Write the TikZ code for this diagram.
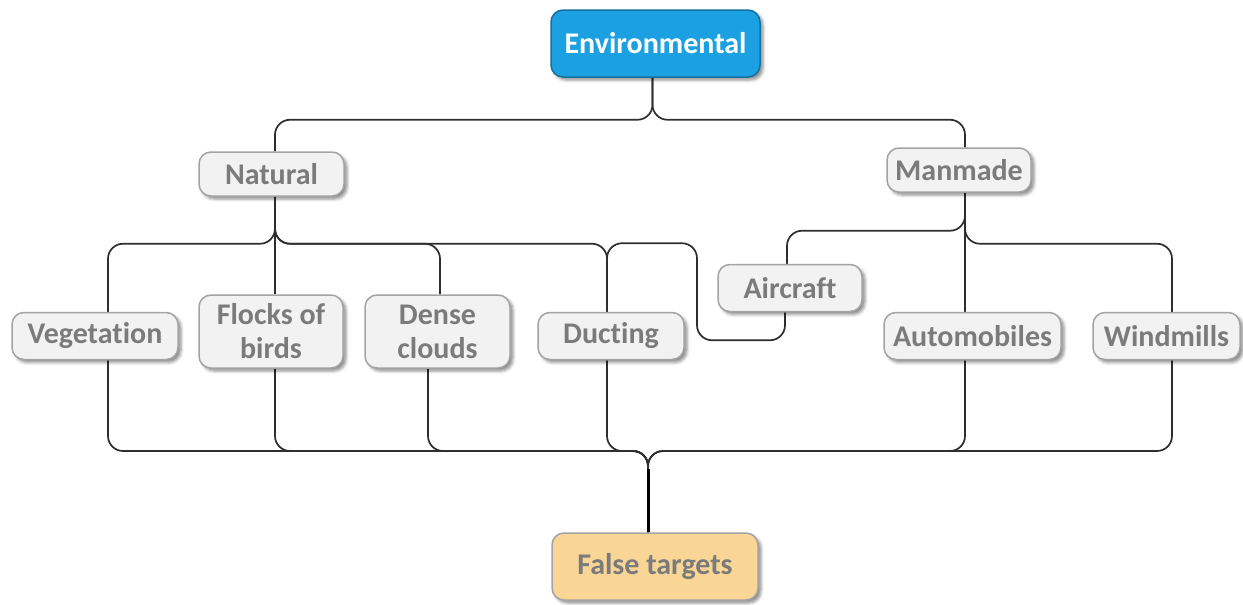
\documentclass[tikz,border=0pt]{standalone}
\usepackage{fontspec}
\setmainfont{Carlito}[RawFeature={-liga;-clig;-dlig;-calt}]
\usetikzlibrary{shadows.blur,backgrounds}
\definecolor{envblue}{HTML}{1BA1E2}
\definecolor{falseorange}{HTML}{F9D596}
\definecolor{boxfill}{HTML}{F2F2F2}
\definecolor{boxline}{HTML}{A3A3A3}
\definecolor{textgray}{HTML}{7B7B7B}
\definecolor{wire}{HTML}{2E2E2E}
% break the letter pairs that Carlito would join
\newcommand{\nolig}{\kern0pt{}}
\begin{document}
\begin{tikzpicture}[x=1pt,y=-1pt,
  box/.style={draw=boxline, line width=1.5pt, fill=boxfill, rounded corners=12pt,
    text=textgray, font=\fontsize{30}{34}\selectfont\bfseries, align=center,
    inner sep=0pt,
    blur shadow={shadow xshift=3pt, shadow yshift=-3pt, shadow blur radius=3pt, shadow opacity=45}},
  wirepath/.style={draw=wire, line width=1.7pt, rounded corners=15pt},
]
\useasboundingbox (0,0) rectangle (1243,605);

% root, groups and sources
\node[box, minimum width=209pt, minimum height=67pt, fill=envblue,
      draw=envblue!70!black, text=white] (env) at (655.5,43.5) {Environmental};
\node[box, minimum width=145pt, minimum height=44pt] (nat) at (271.5,174) {Natural};
\node[box, minimum width=144pt, minimum height=44pt] (man) at (959,170) {Manmade};
\node[box, minimum width=166pt, minimum height=47pt] (veg) at (95,336) {Vegetat\nolig ion};
\node[box, minimum width=144pt, minimum height=73pt] (flk) at (271,331.5) {Flocks of\\birds};
\node[box, minimum width=145pt, minimum height=73pt] (dns) at (437.5,331.5) {Dense\\clouds};
\node[box, minimum width=146pt, minimum height=47pt] (duc) at (611,336) {Duct\nolig ing};
\node[box, minimum width=144pt, minimum height=47pt] (air) at (790,288) {Aircraf\nolig t};
\node[box, minimum width=177pt, minimum height=47pt] (aut) at (972.5,336) {Automobiles};
\node[box, minimum width=147pt, minimum height=47pt] (wnd) at (1166.5,336) {Windmills};
\node[box, minimum width=206pt, minimum height=67pt, fill=falseorange] (ft) at (655,566.5) {False targets};

\coordinate (bus) at (648,451);

\begin{scope}[on background layer]
  % Environmental -> groups
  \draw[wirepath] ([xshift=-3pt]env.south) -- ++(0,42) -| ([xshift=3.5pt]nat.north);
  \draw[wirepath] ([xshift=-3pt]env.south) -- ++(0,42) -| ([xshift=6pt]man.north);
  % Natural -> sources
  \draw[wirepath] ([xshift=3.5pt]nat.south) -- ++(0,47) -| ([xshift=13pt]veg.north);
  \draw[wirepath] ([xshift=3.5pt]nat.south) -- ([xshift=4pt]flk.north);
  \draw[wirepath] ([xshift=3.5pt]nat.south) -- ++(0,47) -| ([xshift=2.5pt]dns.north);
  \draw[wirepath] ([xshift=3.5pt]nat.south) -- ++(0,47) -| ([xshift=-4pt]duc.north);
  % Manmade -> sources
  \draw[wirepath] ([xshift=6pt]man.south) -- ++(0,38) -| ([xshift=-3pt]air.north);
  \draw[wirepath] ([xshift=6pt]man.south) -- ([xshift=-7.5pt]aut.north);
  \draw[wirepath] ([xshift=6pt]man.south) -- ++(0,51) -| ([xshift=5.5pt]wnd.north);
  % Aircraft -> Ducting
  \draw[wirepath] ([xshift=-5pt]air.south) -- ++(0,28) -| ++(-88,-97) -| ([xshift=-4pt]duc.north);
  % sources -> False targets
  \draw[wirepath] ([xshift=13pt]veg.south) |- (bus) -- ([xshift=-7pt]ft.north);
  \draw[wirepath] ([xshift=4pt]flk.south) |- (bus) -- ([xshift=-7pt]ft.north);
  \draw[wirepath] ([xshift=-9.5pt]dns.south) |- (bus) -- ([xshift=-7pt]ft.north);
  \draw[wirepath] ([xshift=-4pt]duc.south) |- (bus) -- ([xshift=-7pt]ft.north);
  \draw[wirepath] ([xshift=-7.5pt]aut.south) |- (bus) -- ([xshift=-7pt]ft.north);
  \draw[wirepath] ([xshift=5.5pt]wnd.south) |- (bus) -- ([xshift=-7pt]ft.north);
  \draw[draw=black, line width=3pt] ([xshift=-7pt,yshift=63pt]ft.north) -- ([xshift=-7pt]ft.north);
\end{scope}
\end{tikzpicture}
\end{document}
